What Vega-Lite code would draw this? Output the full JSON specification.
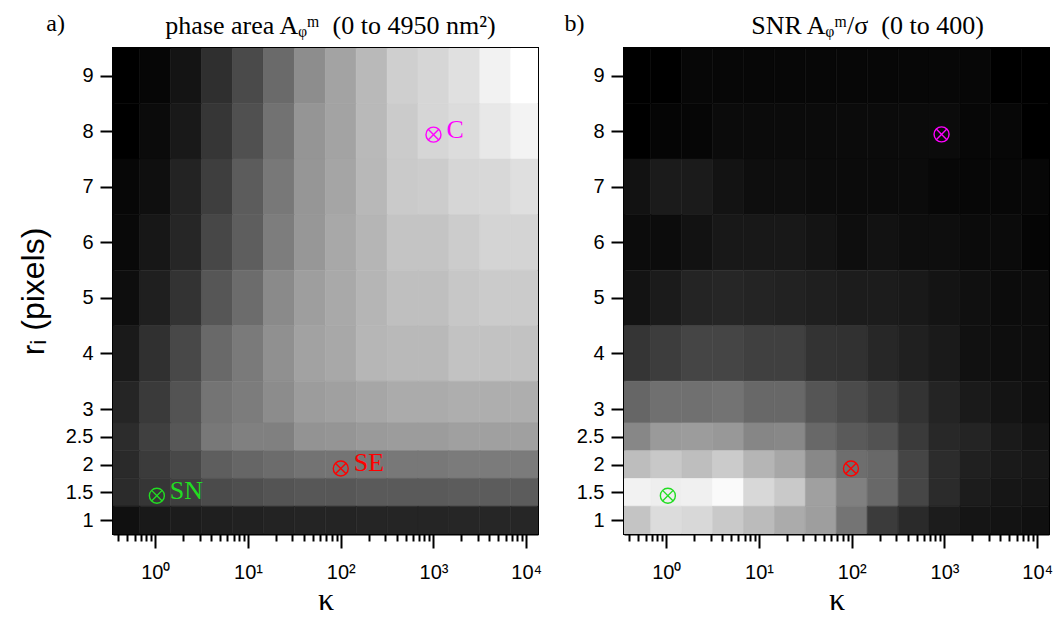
{
  "$schema": "https://vega.github.io/schema/vega-lite/v6.json",
  "background": "white",
  "padding": {"left": 16, "top": 11, "right": 5, "bottom": 5},
  "datasets": {
    "cells": [
      {"c":0,"r":9,"A":0,"S":0},{"c":1,"r":9,"A":116,"S":0},{"c":2,"r":9,"A":388,"S":11},{"c":3,"r":9,"A":912,"S":11},{"c":4,"r":9,"A":1436,"S":11},{"c":5,"r":9,"A":2058,"S":11},{"c":6,"r":9,"A":2737,"S":11},{"c":7,"r":9,"A":3164,"S":11},{"c":8,"r":9,"A":3591,"S":11},{"c":9,"r":9,"A":4018,"S":11},{"c":10,"r":9,"A":4154,"S":11},{"c":11,"r":9,"A":4348,"S":11},{"c":12,"r":9,"A":4698,"S":0},{"c":13,"r":9,"A":4950,"S":0},
      {"c":0,"r":8,"A":0,"S":0},{"c":1,"r":8,"A":214,"S":8},{"c":2,"r":8,"A":485,"S":9},{"c":3,"r":8,"A":1048,"S":17},{"c":4,"r":8,"A":1553,"S":17},{"c":5,"r":8,"A":2213,"S":17},{"c":6,"r":8,"A":2892,"S":17},{"c":7,"r":8,"A":3164,"S":17},{"c":8,"r":8,"A":3591,"S":17},{"c":9,"r":8,"A":3941,"S":17},{"c":10,"r":8,"A":4154,"S":17},{"c":11,"r":8,"A":4271,"S":11},{"c":12,"r":8,"A":4504,"S":11},{"c":13,"r":8,"A":4717,"S":0},
      {"c":0,"r":7,"A":136,"S":28},{"c":1,"r":7,"A":291,"S":42},{"c":2,"r":7,"A":679,"S":42},{"c":3,"r":7,"A":1204,"S":30},{"c":4,"r":7,"A":1786,"S":22},{"c":5,"r":7,"A":2329,"S":22},{"c":6,"r":7,"A":2912,"S":19},{"c":7,"r":7,"A":3203,"S":17},{"c":8,"r":7,"A":3572,"S":17},{"c":9,"r":7,"A":3921,"S":17},{"c":10,"r":7,"A":3960,"S":11},{"c":11,"r":7,"A":4154,"S":11},{"c":12,"r":7,"A":4193,"S":11},{"c":13,"r":7,"A":4329,"S":11},
      {"c":0,"r":6,"A":175,"S":19},{"c":1,"r":6,"A":446,"S":19},{"c":2,"r":6,"A":738,"S":28},{"c":3,"r":6,"A":1378,"S":38},{"c":4,"r":6,"A":1825,"S":38},{"c":5,"r":6,"A":2426,"S":38},{"c":6,"r":6,"A":2931,"S":31},{"c":7,"r":6,"A":3261,"S":22},{"c":8,"r":6,"A":3514,"S":28},{"c":9,"r":6,"A":3805,"S":22},{"c":10,"r":6,"A":3805,"S":22},{"c":11,"r":6,"A":3960,"S":17},{"c":12,"r":6,"A":4115,"S":17},{"c":13,"r":6,"A":4115,"S":8},
      {"c":0,"r":5,"A":272,"S":30},{"c":1,"r":5,"A":602,"S":42},{"c":2,"r":5,"A":990,"S":56},{"c":3,"r":5,"A":1669,"S":60},{"c":4,"r":5,"A":2096,"S":56},{"c":5,"r":5,"A":2679,"S":53},{"c":6,"r":5,"A":3067,"S":49},{"c":7,"r":5,"A":3281,"S":44},{"c":8,"r":5,"A":3514,"S":44},{"c":9,"r":5,"A":3708,"S":39},{"c":10,"r":5,"A":3708,"S":31},{"c":11,"r":5,"A":3863,"S":25},{"c":12,"r":5,"A":3941,"S":19},{"c":13,"r":5,"A":3941,"S":19},
      {"c":0,"r":4,"A":505,"S":83},{"c":1,"r":4,"A":932,"S":96},{"c":2,"r":4,"A":1398,"S":108},{"c":3,"r":4,"A":2038,"S":108},{"c":4,"r":4,"A":2368,"S":100},{"c":5,"r":4,"A":2795,"S":100},{"c":6,"r":4,"A":3145,"S":80},{"c":7,"r":4,"A":3261,"S":77},{"c":8,"r":4,"A":3533,"S":61},{"c":9,"r":4,"A":3591,"S":50},{"c":10,"r":4,"A":3591,"S":41},{"c":11,"r":4,"A":3766,"S":27},{"c":12,"r":4,"A":3766,"S":22},{"c":13,"r":4,"A":3766,"S":20},
      {"c":0,"r":3,"A":718,"S":160},{"c":1,"r":3,"A":1126,"S":176},{"c":2,"r":3,"A":1611,"S":176},{"c":3,"r":3,"A":2252,"S":180},{"c":4,"r":3,"A":2407,"S":163},{"c":5,"r":3,"A":2718,"S":163},{"c":6,"r":3,"A":3028,"S":133},{"c":7,"r":3,"A":3106,"S":118},{"c":8,"r":3,"A":3222,"S":100},{"c":9,"r":3,"A":3319,"S":80},{"c":10,"r":3,"A":3319,"S":56},{"c":11,"r":3,"A":3378,"S":41},{"c":12,"r":3,"A":3378,"S":31},{"c":13,"r":3,"A":3378,"S":24},
      {"c":0,"r":2.5,"A":854,"S":212},{"c":1,"r":2.5,"A":1242,"S":242},{"c":2,"r":2.5,"A":1689,"S":245},{"c":3,"r":2.5,"A":2329,"S":238},{"c":4,"r":2.5,"A":2485,"S":210},{"c":5,"r":2.5,"A":2485,"S":213},{"c":6,"r":2.5,"A":2854,"S":163},{"c":7,"r":2.5,"A":2892,"S":141},{"c":8,"r":2.5,"A":2989,"S":129},{"c":9,"r":2.5,"A":3028,"S":91},{"c":10,"r":2.5,"A":3028,"S":63},{"c":11,"r":2.5,"A":3106,"S":56},{"c":12,"r":2.5,"A":3106,"S":41},{"c":13,"r":2.5,"A":3106,"S":31},
      {"c":0,"r":2,"A":815,"S":296},{"c":1,"r":2,"A":1145,"S":314},{"c":2,"r":2,"A":1398,"S":298},{"c":3,"r":2,"A":1825,"S":318},{"c":4,"r":2,"A":1980,"S":284},{"c":5,"r":2,"A":2096,"S":262},{"c":6,"r":2,"A":2232,"S":213},{"c":7,"r":2,"A":2252,"S":173},{"c":8,"r":2,"A":2291,"S":163},{"c":9,"r":2,"A":2329,"S":108},{"c":10,"r":2,"A":2329,"S":69},{"c":11,"r":2,"A":2388,"S":50},{"c":12,"r":2,"A":2388,"S":41},{"c":13,"r":2,"A":2388,"S":36},
      {"c":0,"r":1.5,"A":835,"S":380},{"c":1,"r":1.5,"A":1048,"S":373},{"c":2,"r":1.5,"A":1223,"S":376},{"c":3,"r":1.5,"A":1456,"S":392},{"c":4,"r":1.5,"A":1534,"S":339},{"c":5,"r":1.5,"A":1631,"S":315},{"c":6,"r":1.5,"A":1689,"S":251},{"c":7,"r":1.5,"A":1689,"S":201},{"c":8,"r":1.5,"A":1747,"S":163},{"c":9,"r":1.5,"A":1747,"S":110},{"c":10,"r":1.5,"A":1747,"S":67},{"c":11,"r":1.5,"A":1786,"S":44},{"c":12,"r":1.5,"A":1786,"S":35},{"c":13,"r":1.5,"A":1786,"S":31},
      {"c":0,"r":1,"A":311,"S":307},{"c":1,"r":1,"A":485,"S":345},{"c":2,"r":1,"A":544,"S":339},{"c":3,"r":1,"A":602,"S":315},{"c":4,"r":1,"A":641,"S":293},{"c":5,"r":1,"A":679,"S":268},{"c":6,"r":1,"A":699,"S":248},{"c":7,"r":1,"A":699,"S":182},{"c":8,"r":1,"A":718,"S":93},{"c":9,"r":1,"A":718,"S":66},{"c":10,"r":1,"A":718,"S":44},{"c":11,"r":1,"A":738,"S":33},{"c":12,"r":1,"A":738,"S":30},{"c":13,"r":1,"A":738,"S":25}
    ],
    "kb": [
      {"c":0,"klo":0.31623,"khi":0.68129},{"c":1,"klo":0.68129,"khi":1.4678},{"c":2,"klo":1.4678,"khi":3.1623},{"c":3,"klo":3.1623,"khi":6.8129},{"c":4,"klo":6.8129,"khi":14.678},{"c":5,"klo":14.678,"khi":31.623},{"c":6,"klo":31.623,"khi":68.129},{"c":7,"klo":68.129,"khi":146.78},{"c":8,"klo":146.78,"khi":316.23},{"c":9,"klo":316.23,"khi":681.29},{"c":10,"klo":681.29,"khi":1467.8},{"c":11,"klo":1467.8,"khi":3162.3},{"c":12,"klo":3162.3,"khi":6812.9},{"c":13,"klo":6812.9,"khi":14678}
    ],
    "rb": [
      {"r":1,"rlo":0.75,"rhi":1.25},{"r":1.5,"rlo":1.25,"rhi":1.75},{"r":2,"rlo":1.75,"rhi":2.25},{"r":2.5,"rlo":2.25,"rhi":2.75},{"r":3,"rlo":2.75,"rhi":3.5},{"r":4,"rlo":3.5,"rhi":4.5},{"r":5,"rlo":4.5,"rhi":5.5},{"r":6,"rlo":5.5,"rhi":6.5},{"r":7,"rlo":6.5,"rhi":7.5},{"r":8,"rlo":7.5,"rhi":8.5},{"r":9,"rlo":8.5,"rhi":9.5}
    ],
    "marksA": [
      {"name":"C","kappa":1000,"r":7.94},{"name":"SE","kappa":100,"r":1.93},{"name":"SN","kappa":1.04,"r":1.44}
    ],
    "marksB": [
      {"name":"C","kappa":930,"r":7.945},{"name":"SE","kappa":98,"r":1.93},{"name":"SN","kappa":1.04,"r":1.44}
    ]
  },
  "hconcat": [
    {
      "width": 425,
      "height": 486,
      "title": {"text": "phase area A\u1D69\u1D50\u2002(0 to 4950 nm\u00B2)", "offset": -27, "dx": 5},
      "layer": [
        {
          "data": {"name": "cells"},
          "transform": [
            {"lookup": "c", "from": {"data": {"name": "kb"}, "key": "c", "fields": ["klo", "khi"]}},
            {"lookup": "r", "from": {"data": {"name": "rb"}, "key": "r", "fields": ["rlo", "rhi"]}}
          ],
          "mark": {"type": "rect", "clip": true, "strokeWidth": 0.6},
          "encoding": {
            "x": {"field": "klo", "type": "quantitative",
              "scale": {"type": "log", "domain": [0.35, 13400], "nice": false},
              "axis": {"title": "\u03BA",
                "values": [0.4,0.5,0.6,0.7,0.8,0.9,1,2,3,4,5,6,7,8,9,10,20,30,40,50,60,70,80,90,100,200,300,400,500,600,700,800,900,1000,2000,3000,4000,5000,6000,7000,8000,9000,10000],
                "labelExpr": "abs(log(datum.value)/LN10 - round(log(datum.value)/LN10)) < 0.001 ? '10' + ['\u2070','\u00B9','\u00B2','\u00B3','\u2074'][round(log(datum.value)/LN10)] : ''",
                "tickSize": {"condition": {"test": "abs(log(datum.value)/LN10 - round(log(datum.value)/LN10)) < 0.001", "value": 14}, "value": 7}}},
            "x2": {"field": "khi"},
            "y": {"field": "rlo", "type": "quantitative",
              "scale": {"domain": [0.75, 9.5], "nice": false, "zero": false},
              "axis": {"title": "r\u1D62 (pixels)", "values": [1,1.5,2,2.5,3,4,5,6,7,8,9], "format": "~g", "titleFont": "Liberation Sans", "titleFontSize": 32, "titlePadding": 15}},
            "y2": {"field": "rhi"},
            "fill": {"field": "A", "type": "quantitative", "scale": {"domain": [0, 4950], "range": ["#000000", "#ffffff"], "interpolate": "rgb"}, "legend": null},
            "stroke": {"field": "A", "type": "quantitative", "scale": {"domain": [0, 4950], "range": ["#000000", "#ffffff"], "interpolate": "rgb"}, "legend": null}
          }
        },
        {
          "data": {"name": "marksA"},
          "mark": {"type": "point", "shape": "circle", "filled": false, "size": 225, "strokeWidth": 1.4, "opacity": 1},
          "encoding": {
            "x": {"field": "kappa", "type": "quantitative"},
            "y": {"field": "r", "type": "quantitative"},
            "color": {"field": "name", "type": "nominal", "scale": {"domain": ["C", "SE", "SN"], "range": ["#ff00ff", "#ff0000", "#22dd22"]}, "legend": null}
          }
        },
        {
          "data": {"name": "marksA"},
          "mark": {"type": "point", "shape": "M-0.7071,-0.7071L0.7071,0.7071M-0.7071,0.7071L0.7071,-0.7071", "filled": false, "size": 225, "strokeWidth": 1.4, "opacity": 1},
          "encoding": {
            "x": {"field": "kappa", "type": "quantitative"},
            "y": {"field": "r", "type": "quantitative"},
            "color": {"field": "name", "type": "nominal", "scale": {"domain": ["C", "SE", "SN"], "range": ["#ff00ff", "#ff0000", "#22dd22"]}, "legend": null}
          }
        },
        {
          "data": {"name": "marksA"},
          "mark": {"type": "text", "align": "left", "baseline": "middle", "dx": 13, "dy": -5, "font": "Liberation Serif", "fontSize": 26},
          "encoding": {
            "x": {"field": "kappa", "type": "quantitative"},
            "y": {"field": "r", "type": "quantitative"},
            "text": {"field": "name"},
            "color": {"field": "name", "type": "nominal", "scale": {"domain": ["C", "SE", "SN"], "range": ["#ff00ff", "#ff0000", "#22dd22"]}, "legend": null}
          }
        },
        {
          "data": {"values": [{}]},
          "mark": {"type": "text", "align": "left", "baseline": "alphabetic", "font": "Liberation Serif", "fontSize": 24, "color": "black"},
          "encoding": {
            "x": {"datum": 0.0669, "type": "quantitative"},
            "y": {"datum": 9.806, "type": "quantitative"},
            "text": {"value": "a)"}
          }
        }
      ]
    },
    {
      "width": 425,
      "height": 486,
      "title": {"text": "SNR A\u1D69\u1D50/\u03C3\u2002(0 to 400)", "offset": -27, "dx": 31},
      "layer": [
        {
          "data": {"name": "cells"},
          "transform": [
            {"lookup": "c", "from": {"data": {"name": "kb"}, "key": "c", "fields": ["klo", "khi"]}},
            {"lookup": "r", "from": {"data": {"name": "rb"}, "key": "r", "fields": ["rlo", "rhi"]}}
          ],
          "mark": {"type": "rect", "clip": true, "strokeWidth": 0.6},
          "encoding": {
            "x": {"field": "klo", "type": "quantitative",
              "scale": {"type": "log", "domain": [0.35, 13400], "nice": false},
              "axis": {"title": "\u03BA",
                "values": [0.4,0.5,0.6,0.7,0.8,0.9,1,2,3,4,5,6,7,8,9,10,20,30,40,50,60,70,80,90,100,200,300,400,500,600,700,800,900,1000,2000,3000,4000,5000,6000,7000,8000,9000,10000],
                "labelExpr": "abs(log(datum.value)/LN10 - round(log(datum.value)/LN10)) < 0.001 ? '10' + ['\u2070','\u00B9','\u00B2','\u00B3','\u2074'][round(log(datum.value)/LN10)] : ''",
                "tickSize": {"condition": {"test": "abs(log(datum.value)/LN10 - round(log(datum.value)/LN10)) < 0.001", "value": 14}, "value": 7}}},
            "x2": {"field": "khi"},
            "y": {"field": "rlo", "type": "quantitative",
              "scale": {"domain": [0.75, 9.5], "nice": false, "zero": false},
              "axis": {"title": null, "values": [1,1.5,2,2.5,3,4,5,6,7,8,9], "format": "~g"}},
            "y2": {"field": "rhi"},
            "fill": {"field": "S", "type": "quantitative", "scale": {"domain": [0, 400], "range": ["#000000", "#ffffff"], "interpolate": "rgb"}, "legend": null},
            "stroke": {"field": "S", "type": "quantitative", "scale": {"domain": [0, 400], "range": ["#000000", "#ffffff"], "interpolate": "rgb"}, "legend": null}
          }
        },
        {
          "data": {"name": "marksB"},
          "mark": {"type": "point", "shape": "circle", "filled": false, "size": 225, "strokeWidth": 1.4, "opacity": 1},
          "encoding": {
            "x": {"field": "kappa", "type": "quantitative"},
            "y": {"field": "r", "type": "quantitative"},
            "color": {"field": "name", "type": "nominal", "scale": {"domain": ["C", "SE", "SN"], "range": ["#ff00ff", "#ff0000", "#22dd22"]}, "legend": null}
          }
        },
        {
          "data": {"name": "marksB"},
          "mark": {"type": "point", "shape": "M-0.7071,-0.7071L0.7071,0.7071M-0.7071,0.7071L0.7071,-0.7071", "filled": false, "size": 225, "strokeWidth": 1.4, "opacity": 1},
          "encoding": {
            "x": {"field": "kappa", "type": "quantitative"},
            "y": {"field": "r", "type": "quantitative"},
            "color": {"field": "name", "type": "nominal", "scale": {"domain": ["C", "SE", "SN"], "range": ["#ff00ff", "#ff0000", "#22dd22"]}, "legend": null}
          }
        },
        {
          "data": {"values": [{}]},
          "mark": {"type": "text", "align": "left", "baseline": "alphabetic", "font": "Liberation Serif", "fontSize": 24, "color": "black"},
          "encoding": {
            "x": {"datum": 0.0801, "type": "quantitative"},
            "y": {"datum": 9.806, "type": "quantitative"},
            "text": {"value": "b)"}
          }
        }
      ]
    }
  ],
  "spacing": 86,
  "bounds": "flush",
  "resolve": {"scale": {"fill": "independent", "stroke": "independent"}},
  "config": {
    "view": {"stroke": "black", "strokeWidth": 2},
    "axis": {
      "grid": false,
      "domainColor": "black", "domainWidth": 2,
      "tickColor": "black", "tickWidth": 2,
      "labelFont": "Liberation Sans", "labelFontSize": 20, "labelColor": "black",
      "labelOverlap": false, "labelFlush": false,
      "titleColor": "black", "titleFontWeight": "normal"
    },
    "axisX": {"labelPadding": 14, "titleFont": "Liberation Serif", "titleFontSize": 32, "titlePadding": 2},
    "axisY": {"tickSize": 13, "labelPadding": 7},
    "title": {"font": "Liberation Serif", "fontSize": 26, "fontWeight": "normal", "color": "black", "anchor": "middle", "frame": "group", "baseline": "alphabetic"}
  }
}
